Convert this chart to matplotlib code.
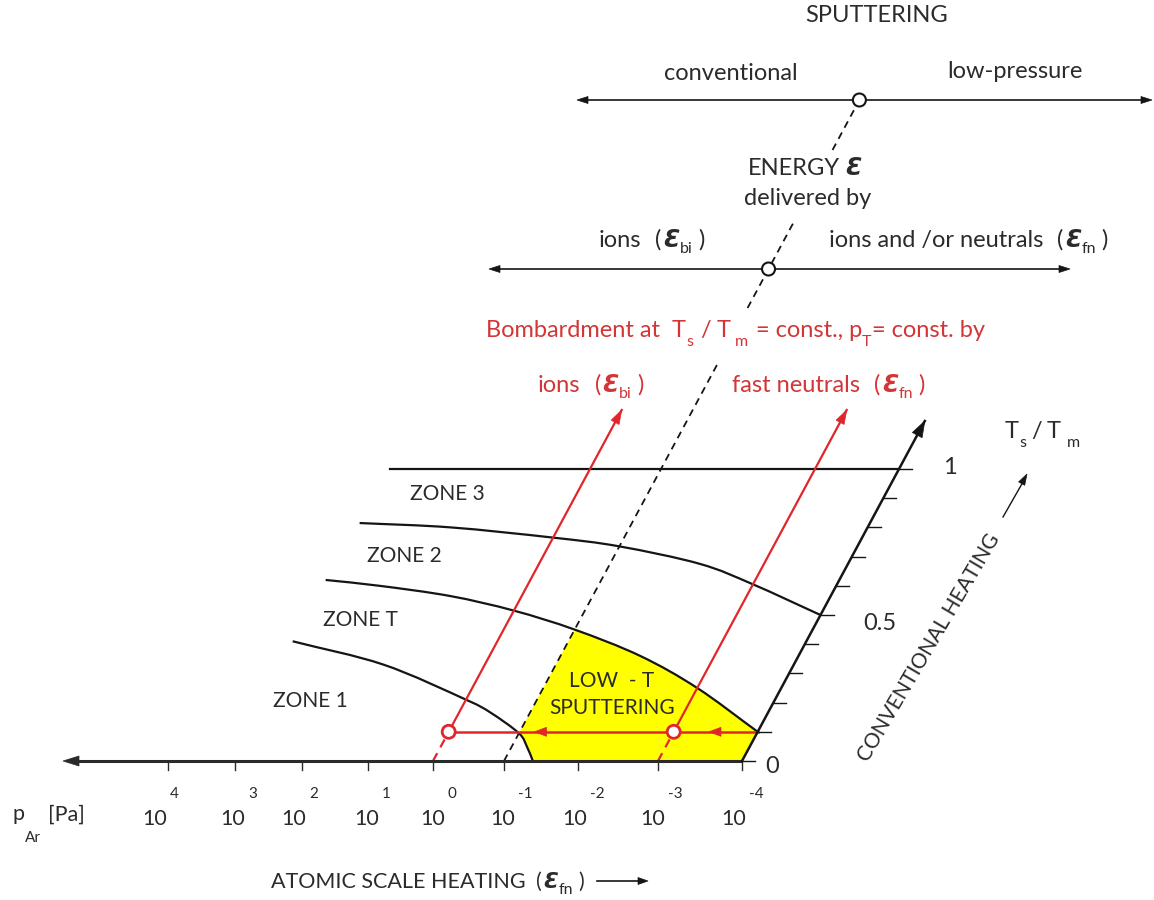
import numpy as np
import matplotlib
matplotlib.use("Agg")
import matplotlib.pyplot as plt
from matplotlib.path import Path
from matplotlib.patches import PathPatch, Polygon, Circle

# ---------------------------------------------------------------- data
p_exponents = [4, 3, 2, 1, 0, -1, -2, -3, -4]           # p_Ar = 10^e  [Pa]
ts_ticks = [0.0, 0.1, 0.2, 0.3, 0.4, 0.5, 0.6, 0.7, 0.8, 0.9, 1.0]
ts_tick_labels = ["0", "0.5", "1"]
ts_labelled = [0.0, 0.5, 1.0]

# zone boundaries, diagram coordinates (log10 p_Ar, Ts/Tm)
zone3_top_e = [3.03, -4.0]
zone3_top_t = [1.0, 1.0]
zone2_3_e = [3.05, 1.65, 0.0, -1.0, -2.2, -3.0, -4.0]
zone2_3_t = [0.815, 0.80, 0.765, 0.735, 0.675, 0.605, 0.50]
zoneT_2_e = [3.1, 2.25, 1.1, 0.0, -1.0, -2.07, -3.0, -4.0]
zoneT_2_t = [0.62, 0.60, 0.565, 0.515, 0.45, 0.36, 0.25, 0.10]
zone1_T_e = [3.1, 1.55, 0.0, -0.45, -1.0, -1.21, -1.39]
zone1_T_t = [0.41, 0.33, 0.21, 0.165, 0.095, 0.048, 0.0]

zone_labels = ["ZONE 3", "ZONE 2", "ZONE T", "ZONE 1"]

energy_line_e = -1.0      # dashed "energy" line
ion_path_e = 0.0          # red: bombardment by ions
neutral_path_e = -3.0     # red: bombardment by fast neutrals
bombard_ts = 0.1          # Ts/Tm = const. for bombardment
bombard_arrow_e = [-1.2, -3.42]

# ---------------------------------------------------------------- layout
W, H = 1154, 900
p_tick_px = [168, 235, 302, 368, 433, 504, 578, 658, 742]
p_label_px = [155, 233, 294, 367, 433, 503, 575, 653, 734]
Y0, SKX, SKY = 761.0, 157.0, 292.0

DARK = "#2b2b2b"
LINE = "#151515"
RED = "#e0262a"
RTXT = "#d23636"
FONT = ["Lato", "DejaVu Sans"]
SYMF = ["DejaVu Sans"]

BIG = 17
ZN = 15
SUB = 11.5

plt.rcParams["font.family"] = FONT

fig = plt.figure(figsize=(W / 100, H / 100), dpi=100)
ax = fig.add_axes([0, 0, 1, 1])
ax.set_xlim(0, W)
ax.set_ylim(H, 0)
ax.axis("off")
renderer = fig.canvas.get_renderer()

xp_inc = np.array(p_exponents[::-1], float)
fp_inc = np.array(p_tick_px[::-1], float)


def P(e, t):
    return np.array([np.interp(e, xp_inc, fp_inc) + SKX * t, Y0 - SKY * t])


def cr_segments(pts):
    pts = np.asarray(pts, float)
    ext = np.vstack([2 * pts[0] - pts[1], pts, 2 * pts[-1] - pts[-2]])
    segs = []
    for i in range(len(pts) - 1):
        p0, p1, p2, p3 = ext[i], ext[i + 1], ext[i + 2], ext[i + 3]
        segs.append((p1, p1 + (p2 - p0) / 6, p2 - (p3 - p1) / 6, p2))
    return segs


def segs_path(segs, reverse=False, start=True):
    if reverse:
        segs = [(s[3], s[2], s[1], s[0]) for s in segs[::-1]]
    verts, codes = [], []
    if start:
        verts.append(segs[0][0])
        codes.append(Path.MOVETO)
    for s in segs:
        verts += [s[1], s[2], s[3]]
        codes += [Path.CURVE4] * 3
    return verts, codes


def head(tip, direction, length=12, half=4.5, color=LINE, z=5):
    d = np.asarray(direction, float)
    d = d / np.hypot(*d)
    n = np.array([-d[1], d[0]])
    tip = np.asarray(tip, float)
    base = tip - d * length
    ax.add_patch(Polygon([tip, base + n * half, base - n * half], closed=True,
                         facecolor=color, edgecolor=color, lw=0.5, zorder=z))


def twidth(s, **kw):
    t = ax.text(0, 0, s, **kw)
    w = t.get_window_extent(renderer).width
    t.remove()
    return w


def runs(x, y, parts, ha="left", color=DARK, z=6):
    kws, widths = [], []
    for p in parts:
        kw = dict(fontsize=p.get("size", BIG), family=p.get("family", FONT),
                  fontweight=p.get("fontweight", "normal"),
                  fontstyle=p.get("fontstyle", "normal"))
        kws.append(kw)
        widths.append(twidth(p["s"], **kw))
    total = sum(widths) + sum(p.get("gap", 0) for p in parts)
    x0 = x - total / 2 if ha == "center" else (x - total if ha == "right" else x)
    cx = x0
    for p, kw, w in zip(parts, kws, widths):
        cx += p.get("gap", 0)
        ax.text(cx, y + p.get("dy", 0), p["s"], ha="left", va="baseline",
                color=p.get("color", color), zorder=z, **kw)
        cx += w


def eps_parts(prefix, sub, size, subsize, gap1=14):
    return [dict(s=prefix, size=size),
            dict(s="(", size=size, gap=gap1),
            dict(s="\u0190", size=size, gap=2, family=SYMF,
                 fontweight="bold", fontstyle="italic"),
            dict(s=sub, size=subsize, dy=6),
            dict(s=")", size=size, gap=5)]


# ---------------------------------------------------------------- yellow region
c3 = cr_segments([P(e, t) for e, t in zip(zoneT_2_e, zoneT_2_t)])
c4 = cr_segments([P(e, t) for e, t in zip(zone1_T_e, zone1_T_t)])
c2 = cr_segments([P(e, t) for e, t in zip(zone2_3_e, zone2_3_t)])
i4 = zone1_T_e.index(energy_line_e)
i3 = zoneT_2_e.index(energy_line_e)
v, c = segs_path(c4[i4:])
v += [P(-4, 0), P(-4, bombard_ts)]
c += [Path.LINETO, Path.LINETO]
v2, cc2 = segs_path(c3[i3:], reverse=True, start=False)
v += v2 + [v[0]]
c += cc2 + [Path.CLOSEPOLY]
ax.add_patch(PathPatch(Path(v, c), facecolor="#ffff00", edgecolor="none", zorder=1))

# ---------------------------------------------------------------- zone boundaries
for segs in (c2, c3, c4):
    vv, cc = segs_path(segs)
    ax.add_patch(PathPatch(Path(vv, cc), facecolor="none", edgecolor=LINE, lw=1.6, zorder=3))
a, b = P(zone3_top_e[0], zone3_top_t[0]), P(zone3_top_e[1], zone3_top_t[1])
ax.plot([a[0], b[0]], [a[1], b[1]], color=LINE, lw=1.6, zorder=3)

# ---------------------------------------------------------------- bottom axis
left_tip = 63
ax.plot([left_tip + 10, p_tick_px[-1]], [Y0, Y0], color="#2a2a2a", lw=2.2, zorder=4,
        solid_capstyle="butt")
head((left_tip, Y0), (-1, 0), length=16, half=5, color="#2a2a2a")
for e in p_exponents:
    x = P(e, 0)[0]
    ax.plot([x, x], [Y0, Y0 + 9], color="#2a2a2a", lw=1.0, zorder=4)
for e, lx in zip(p_exponents, p_label_px):
    ax.text(lx, 825, "10", ha="center", va="baseline", fontsize=15.5, color=DARK)
    ax.text(lx + 15, 798, f"{e}", ha="left", va="baseline", fontsize=11, color=DARK)
ax.text(12, 820, "p", ha="left", va="baseline", fontsize=15.5, color=DARK)
ax.text(25, 842, "Ar", ha="left", va="baseline", fontsize=11, color=DARK)
ax.text(48, 821, "[Pa]", ha="left", va="baseline", fontsize=15.5, color=DARK)

runs(271, 888, eps_parts("ATOMIC SCALE HEATING", "fn", 15.5, SUB, gap1=10))
ax.plot([597, 640], [881, 881], color=LINE, lw=1.2)
head((648, 881), (1, 0), length=10, half=3.5)

# ---------------------------------------------------------------- Ts/Tm axis
t_tip = (Y0 - 421) / SKY
a0, a1 = P(-4, 0), P(-4, t_tip)
ax.plot([a0[0], a1[0]], [a0[1], a1[1]], color=LINE, lw=1.8, zorder=4)
head(a1, a1 - a0, length=16, half=5.5)
for t in ts_ticks:
    q = P(-4, t)
    ax.plot([q[0], q[0] + 13], [q[1], q[1]], color=LINE, lw=1.0, zorder=4)
ts_label_pos = [(765, 773), (863, 630), (943, 474)]
for lab, (lx, ly) in zip(ts_tick_labels, ts_label_pos):
    ax.text(lx, ly, lab, ha="left", va="baseline", fontsize=BIG, color=DARK)

runs(1005, 438, [dict(s="T", size=BIG), dict(s="s", size=SUB, dy=9),
                 dict(s="/", size=BIG, gap=5), dict(s="T", size=BIG, gap=5),
                 dict(s="m", size=SUB, dy=9, gap=6)])
ax.text(929, 648, "CONVENTIONAL HEATING", rotation=59.5, rotation_mode="anchor",
        ha="center", va="center", fontsize=15, color=DARK)
ax.plot([1003, 1023], [517, 482], color=LINE, lw=1.0)
head((1027, 474), (24, -43), length=11, half=3.5)

# ---------------------------------------------------------------- dashed energy line
t_top = (Y0 - 100) / SKY
gaps = [((Y0 - 362) / SKY, (Y0 - 308) / SKY), ((Y0 - 223) / SKY, (Y0 - 150) / SKY)]
bounds = [0.0, gaps[0][0], gaps[0][1], gaps[1][0], gaps[1][1], t_top]
for k in range(0, len(bounds), 2):
    p0, p1 = P(energy_line_e, bounds[k]), P(energy_line_e, bounds[k + 1])
    ax.plot([p0[0], p1[0]], [p0[1], p1[1]], color=LINE, lw=1.3,
            linestyle=(0, (4, 3)), zorder=2)

# ---------------------------------------------------------------- red bombardment paths
t_red_tip = (Y0 - 410) / SKY
for e in (ion_path_e, neutral_path_e):
    b0, b1, b2 = P(e, 0), P(e, bombard_ts), P(e, t_red_tip)
    ax.plot([b0[0], b1[0]], [b0[1], b1[1]], color=RED, lw=1.6, linestyle=(0, (4, 3)), zorder=3)
    ax.plot([b1[0], b2[0]], [b1[1], b2[1]], color=RED, lw=1.6, zorder=3)
    head(b2, b2 - b1, length=14, half=4.5, color=RED)
h0, h1 = P(ion_path_e, bombard_ts), P(-4, bombard_ts)
ax.plot([h0[0], h1[0]], [h0[1], h1[1]], color=RED, lw=1.8, zorder=3)
for e in bombard_arrow_e:
    head(P(e, bombard_ts), (-1, 0), length=12, half=4.5, color=RED)
for e in (ion_path_e, neutral_path_e):
    q = P(e, bombard_ts)
    ax.add_patch(Circle(q, 6.5, facecolor="white", edgecolor=RED, lw=2.0, zorder=7))

# ---------------------------------------------------------------- zone texts
zone_label_pos = [(447, 494), (404, 556), (360, 620), (310, 701)]
for lab, (zx, zy) in zip(zone_labels, zone_label_pos):
    ax.text(zx, zy, lab, ha="center", va="center", fontsize=ZN, color=DARK)
ax.text(612, 681, "LOW  - T", ha="center", va="center", fontsize=ZN, color=DARK)
ax.text(612, 708, "SPUTTERING", ha="center", va="center", fontsize=ZN, color=DARK)

# ---------------------------------------------------------------- top scheme
ax.text(877, 16, "SPUTTERING", ha="center", va="center", fontsize=BIG, color=DARK)
ax.text(731, 80, "conventional", ha="center", va="baseline", fontsize=BIG, color=DARK)
ax.text(1015, 78, "low-pressure", ha="center", va="baseline", fontsize=BIG, color=DARK)
ax.plot([587, 1142], [100, 100], color=LINE, lw=1.2)
head((577, 100), (-1, 0), length=11, half=3.5)
head((1152, 100), (1, 0), length=11, half=3.5)
ax.add_patch(Circle(P(energy_line_e, t_top), 6.5, facecolor="white", edgecolor=LINE, lw=1.5, zorder=7))

runs(805, 175, [dict(s="ENERGY", size=BIG),
                dict(s="\u0190", size=BIG, gap=5, family=SYMF,
                     fontweight="bold", fontstyle="italic")], ha="center")
ax.text(808, 205, "delivered by", ha="center", va="baseline", fontsize=BIG, color=DARK)

t_mid = (Y0 - 269) / SKY
ax.plot([499, 1060], [269, 269], color=LINE, lw=1.2)
head((489, 269), (-1, 0), length=11, half=3.5)
head((1070, 269), (1, 0), length=11, half=3.5)
ax.add_patch(Circle(P(energy_line_e, t_mid), 6.5, facecolor="white", edgecolor=LINE, lw=1.5, zorder=7))

runs(599, 247, eps_parts("ions", "bi", BIG, SUB))
runs(829, 247, eps_parts("ions and /or neutrals", "fn", BIG, SUB))

runs(486, 337, [dict(s="Bombardment at", size=BIG),
                dict(s="T", size=BIG, gap=12), dict(s="s", size=SUB, dy=9),
                dict(s="/", size=BIG, gap=7), dict(s="T", size=BIG, gap=6),
                dict(s="m", size=SUB, dy=9, gap=4),
                dict(s="= const., p", size=BIG, gap=8),
                dict(s="T", size=SUB, dy=9), dict(s="= const. by", size=BIG)],
     color=RTXT)
runs(538, 392, eps_parts("ions", "bi", BIG, SUB), color=RTXT)
runs(732, 392, eps_parts("fast neutrals", "fn", BIG, SUB), color=RTXT)

fig.savefig("out.png", dpi=100)
